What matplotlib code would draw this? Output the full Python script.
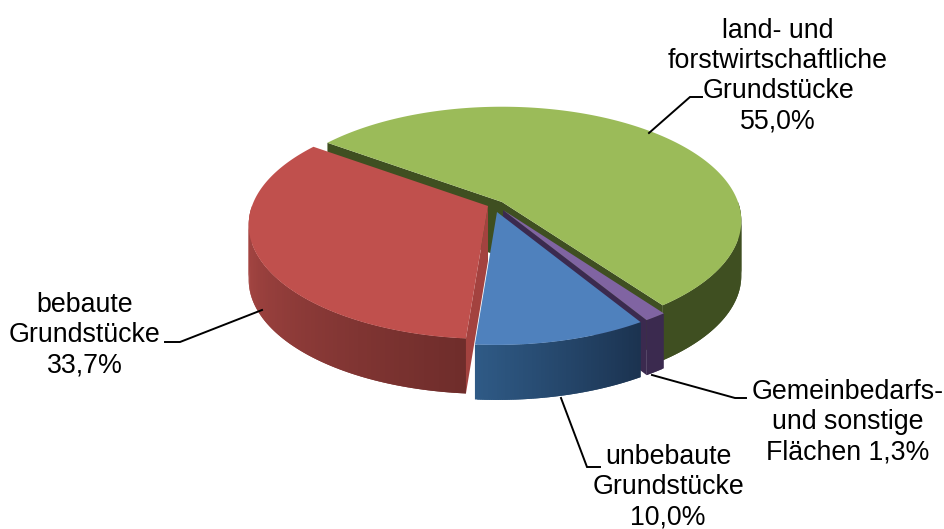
import numpy as np
import matplotlib
matplotlib.use('Agg')
import matplotlib.pyplot as plt
from matplotlib.colors import to_rgb

plt.rcParams['font.family'] = ['Liberation Sans', 'DejaVu Sans']

# chart data
names = ['land- und\nforstwirtschaftliche\nGrundstücke', 'Gemeinbedarfs-\nund sonstige\nFlächen',
         'unbebaute\nGrundstücke', 'bebaute\nGrundstücke']
values = [55.0, 1.3, 10.0, 33.7]
top_colors = ['#9bbb59', '#8064a2', '#4f81bd', '#c0504d']

# pie geometry, in pixels of the figure
apexes = [(502, 202), (503, 210), (497, 212), (488, 206)]
start_angle = 144.2
rx, ry, persp = 236, 111, 0.165
depth = 55


def project(angle, apex, drop=0):
    t = np.radians(angle)
    u, v = np.cos(t), np.sin(t)
    d = 1 + persp * v
    return apex[0] + rx * u / d, apex[1] - ry * v / d + drop


def mix(c1, c2, f):
    return tuple(np.array(to_rgb(c1)) * (1 - f) + np.array(to_rgb(c2)) * f)


def outer_wall(ax, a1, a2, apex, c1, c2, n=80):
    # gradient side of a slice, thin strips that overlap the next one so no seams show
    angles = np.linspace(a1, a2, n + 1)
    for i in range(n):
        seg = np.linspace(angles[i], angles[min(i + 2, n)], 5)
        xs, ys = project(seg, apex)
        col = mix(c1, c2, i / (n - 1))
        ax.fill(np.r_[xs, xs[::-1]], np.r_[ys, ys[::-1] + depth], color=col, lw=0)


def radial_wall(ax, angle, apex, col):
    x, y = project(angle, apex)
    ax.fill([apex[0], x, x, apex[0]], [apex[1], y, y + depth, apex[1] + depth], color=col, lw=0)


def top_face(ax, a1, a2, apex, col):
    angles = np.linspace(a1, a2, 200)
    xs, ys = project(angles, apex)
    ax.fill(np.r_[apex[0], xs], np.r_[apex[1], ys], color=col, lw=0)


fig = plt.figure(figsize=(9.45, 5.29), dpi=100)
ax = fig.add_axes([0, 0, 1, 1])
ax.set_xlim(0, 945)
ax.set_ylim(529, 0)
ax.axis('off')

# slice limits, going clockwise from the start angle
edges = start_angle - np.cumsum([0] + values) * 3.6
green = (edges[0], edges[1])
purple = (edges[1], edges[2])
blue = (edges[2], edges[3])
red = (edges[3], edges[4])

# green
radial_wall(ax, green[0], apexes[0], '#3f4f21')
outer_wall(ax, 0, green[1], apexes[0], '#3f4f21', '#3f4f21', n=40)
radial_wall(ax, green[1], apexes[0], '#3f4f21')
top_face(ax, green[0], green[1], apexes[0], top_colors[0])

# red
outer_wall(ax, -180, blue[1], apexes[3], '#ad4946', '#6f2d2b')
radial_wall(ax, red[0], apexes[3], '#a3423f')
top_face(ax, red[0], red[1], apexes[3], top_colors[3])

# purple
radial_wall(ax, purple[1], apexes[1], '#3b2a4f')
outer_wall(ax, purple[0], purple[1], apexes[1], '#3b2a4f', '#3b2a4f', n=10)
top_face(ax, purple[0], purple[1], apexes[1], top_colors[1])

# blue
outer_wall(ax, blue[1], blue[0], apexes[2], '#2f5a86', '#1b3350')
top_face(ax, blue[0], blue[1], apexes[2], top_colors[2])

# leader lines
leaders = [([649, 690, 702], [133, 97, 97]),
           ([652, 735, 746], [375, 398, 398]),
           ([561, 587, 600], [398, 467, 467]),
           ([262, 180, 165], [310, 342, 342])]
for lx, ly in leaders:
    ax.plot(lx, ly, color='black', lw=1.4, solid_joinstyle='miter')

# labels
label_pos = [(778, 76), (848, 422), (668, 487), (85, 335)]
for name, val, (lx, ly) in zip(names, values, label_pos):
    pct = f'{val:.1f}'.replace('.', ',') + '%'
    sep = ' ' if name.endswith('Flächen') else '\n'
    ax.text(lx, ly, name + sep + pct, ha='center', va='center', fontsize=19.3,
            color='black', linespacing=1.21, clip_on=False)

fig.savefig('out.png', dpi=100)
